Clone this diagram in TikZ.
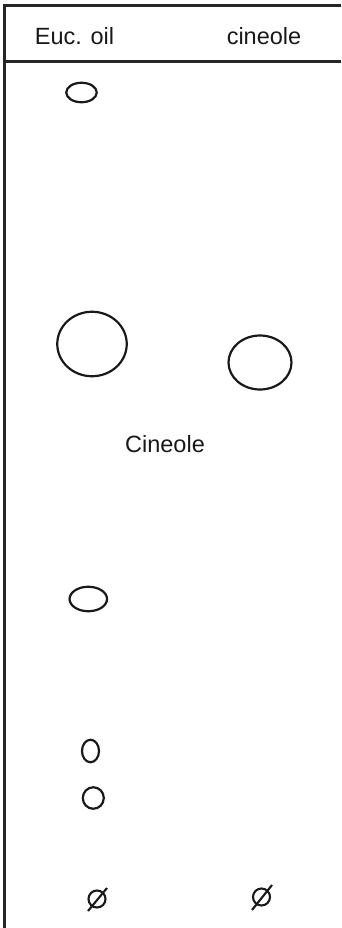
\documentclass[tikz,border=0pt]{standalone}
\usepackage{fontspec}
\setmainfont{Liberation Sans}
\usetikzlibrary{shapes.geometric}
\begin{document}
\begin{tikzpicture}[x=1pt,y=-1pt,
  frame/.style={line width=2.2pt,draw=black!85},
  spot/.style={draw=black!90,line width=2.2pt,ellipse,inner sep=0pt},
  origin/.style={draw=black!90,line width=2.1pt,circle,inner sep=0pt,minimum size=17pt},
  slash/.style={draw=black!90,line width=2.1pt},
  lbl/.style={anchor=base,inner sep=0pt,font=\fontsize{23.5}{28}\selectfont,text=black!90}]
\useasboundingbox (0,0) rectangle (341,928);
% frame
\coordinate (tl) at (4.5,5.5);
\coordinate (tr) at (341,5.5);
\coordinate (bl) at (4.5,928);
\coordinate (hl) at (4.5,61.5);
\coordinate (hr) at (341,61.5);
\draw[frame] (tr) -- (tl) -- (bl);
\draw[frame] (hl) -- (hr);
% labels
\node[lbl] (h1) at (74.5,45) {Euc. oil};
\node[lbl] (h2) at (264,45) {cineole};
\node[lbl] (cin) at (165,452) {Cineole};
% spots
\node[spot,minimum width=30.5pt,minimum height=19.5pt] (s1) at (81.5,92.5) {};
\node[spot,minimum width=69.5pt,minimum height=64.5pt] (s2) at (92,344) {};
\node[spot,minimum width=63pt,minimum height=54pt] (s3) at (260,362.5) {};
\node[spot,minimum width=37.5pt,minimum height=24.5pt] (s4) at (88.3,599) {};
\node[spot,minimum width=17pt,minimum height=22.5pt] (s5) at (90.5,751) {};
\node[spot,minimum width=21pt,minimum height=21.5pt] (s6) at (93.3,798) {};
% origins
\node[origin] (o1) at (97,899) {};
\node[origin] (o2) at (261.5,897) {};
\draw[slash] (o1.center) ++(-9,12) -- ++(19,-23);
\draw[slash] (o2.center) ++(-9.5,13) -- ++(20,-25);
\end{tikzpicture}
\end{document}
